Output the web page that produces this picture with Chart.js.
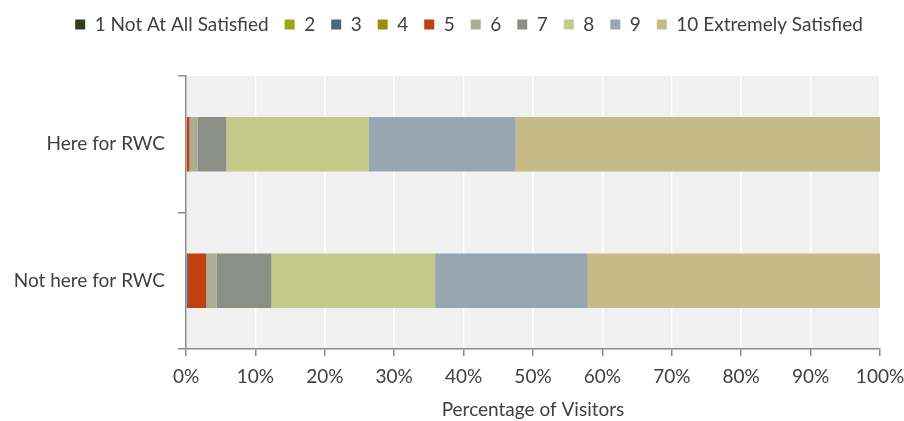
<!DOCTYPE html>
<html>
<head>
<meta charset="utf-8">
<script src="https://cdn.jsdelivr.net/npm/chart.js@4"></script>
<style>
  html, body { margin: 0; padding: 0; background: #ffffff; }
  #wrap { width: 904px; height: 421px; position: relative; }
</style>
</head>
<body>
<div id="wrap"><canvas id="chart"></canvas></div>
<script>
// Satisfaction ratings (1-10) by visitor group, share of visitors in %
const groups = ['Here for RWC', 'Not here for RWC'];
const ratingLabels = ['1 Not At All Satisfied', '2', '3', '4', '5', '6', '7', '8', '9', '10 Extremely Satisfied'];
const rating1  = [0.0, 0.0];
const rating2  = [0.0, 0.0];
const rating3  = [0.0, 0.3];
const rating4  = [0.0, 0.0];
const rating5  = [0.5, 2.6];
const rating6  = [1.2, 1.5];
const rating7  = [4.1, 7.9];
const rating8  = [20.5, 23.6];
const rating9  = [21.2, 22.0];
const rating10 = [52.5, 42.1];
const xTicks = [0, 10, 20, 30, 40, 50, 60, 70, 80, 90, 100];

const ratingValues = [rating1, rating2, rating3, rating4, rating5, rating6, rating7, rating8, rating9, rating10];
const ratingColors = ['#323f1e', '#9aa618', '#4d6780', '#9e8a08', '#c0400f',
                      '#adad93', '#8c8f86', '#c3ca8a', '#97a6b1', '#c6ba86'];

const FONT = 'Lato, "Open Sans", sans-serif';
const FONT_SIZE = 19;
const TEXT = '#404040';
const AXIS = '#8c8c8c';

// Light grey panel behind the plot area
const plotBackground = {
  id: 'plotBackground',
  beforeDraw(chart) {
    const { ctx, chartArea: a } = chart;
    ctx.save();
    ctx.fillStyle = '#f1f1f1';
    ctx.fillRect(a.left, a.top, a.right - a.left, a.bottom - a.top);
    ctx.restore();
  }
};

// Fixed legend band height so the plot starts below it; legend centred over the plot side
const legendBand = {
  id: 'legendBand',
  beforeInit(chart) {
    const fit = chart.legend.fit;
    chart.legend.fit = function () {
      fit.bind(chart.legend)();
      this.height = 77;
    };
  },
  afterLayout(chart) {
    chart.legend.left += 34;
  }
};

new Chart(document.getElementById('chart'), {
  type: 'bar',
  data: {
    labels: groups,
    datasets: ratingLabels.map((label, i) => ({
      label,
      data: ratingValues[i],
      backgroundColor: ratingColors[i],
      borderWidth: 0,
      categoryPercentage: 1.0,
      barPercentage: 0.4
    }))
  },
  options: {
    indexAxis: 'y',
    responsive: true,
    maintainAspectRatio: false,
    animation: false,
    layout: { padding: { top: -1, right: 0, left: 0, bottom: 0 } },
    plugins: {
      tooltip: { enabled: false },
      legend: {
        position: 'top',
        align: 'center',
        labels: {
          boxWidth: 10,
          boxHeight: 10,
          padding: 16,
          color: TEXT,
          font: { family: FONT, size: FONT_SIZE }
        }
      }
    },
    scales: {
      x: {
        stacked: true,
        min: 0,
        max: 100,
        afterBuildTicks(axis) { axis.ticks = xTicks.map(v => ({ value: v })); },
        afterFit(axis) {
          axis.height = 72;
          axis.paddingLeft = 0;
          axis.paddingRight = 24;
        },
        grid: {
          color: '#ffffff',
          lineWidth: 1.5,
          tickColor: AXIS,
          tickLength: 7,
          drawTicks: true
        },
        border: { color: AXIS, width: 1.5 },
        ticks: {
          padding: 9,
          color: TEXT,
          font: { family: FONT, size: FONT_SIZE },
          callback: v => v + '%'
        },
        title: {
          display: true,
          text: 'Percentage of Visitors',
          color: TEXT,
          font: { family: FONT, size: FONT_SIZE },
          padding: { top: 4, bottom: 0 }
        }
      },
      y: {
        stacked: true,
        afterFit(axis) { axis.width = 186; },
        grid: {
          offset: true,
          drawOnChartArea: false,
          tickColor: AXIS,
          tickLength: 8,
          lineWidth: 1.5
        },
        border: { color: AXIS, width: 1.5 },
        ticks: {
          padding: 13,
          color: TEXT,
          font: { family: FONT, size: FONT_SIZE }
        }
      }
    }
  },
  plugins: [plotBackground, legendBand]
});
</script>
</body>
</html>
